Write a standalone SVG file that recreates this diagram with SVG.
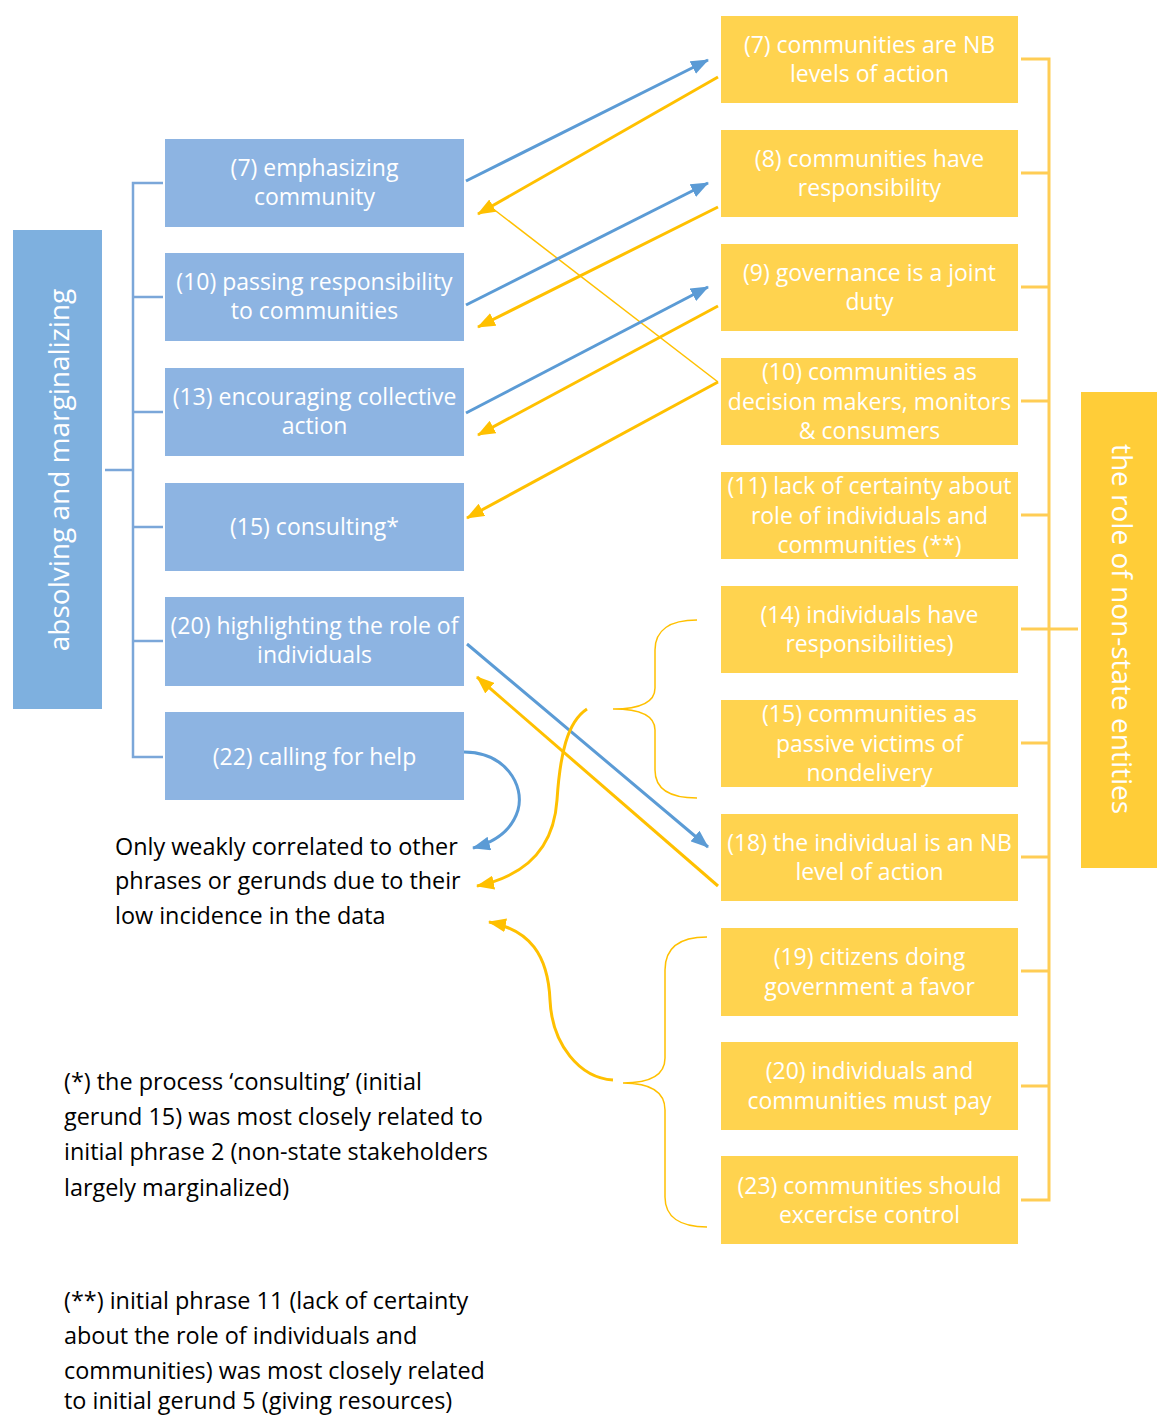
<svg xmlns="http://www.w3.org/2000/svg" width="1157" height="1416" viewBox="0 0 1157 1416">
<style>
.bb{fill:#8DB4E2}
.yb{fill:#FFD34F}
.t{font-family:"Open Sans","Liberation Sans",Arial,sans-serif;font-size:23px;fill:#fff;text-anchor:middle}
.k{font-family:"Open Sans","Liberation Sans",Arial,sans-serif;font-size:23.4px;fill:#000}
.big{font-family:"Open Sans","Liberation Sans",Arial,sans-serif;font-size:28px;fill:#fff;text-anchor:middle}
.ba{fill:none;stroke:#5B9BD5;stroke-width:3}
.ya{fill:none;stroke:#FFC000;stroke-width:3}
.yt{fill:none;stroke:#FFC000;stroke-width:1.5}
.lb{fill:none;stroke:#7BA7D9;stroke-width:2.5}
.rb{fill:none;stroke:#FFCD55;stroke-width:3}
</style>
<defs>
<marker id="ab" markerUnits="userSpaceOnUse" markerWidth="18" markerHeight="14" refX="17" refY="7" orient="auto"><path d="M0,0 L18,7 L0,14 z" fill="#5B9BD5"/></marker>
<marker id="ay" markerUnits="userSpaceOnUse" markerWidth="18" markerHeight="14" refX="17" refY="7" orient="auto"><path d="M0,0 L18,7 L0,14 z" fill="#FFC000"/></marker>
</defs>
<rect width="1157" height="1416" fill="#fff"/>

<g id="left-title">
<rect x="13" y="230" width="89" height="479" fill="#7EB0DF"/>
<text class="big" transform="translate(69,470) rotate(-90)">absolving and marginalizing</text>
</g>
<g id="right-title">
<rect x="1081" y="392" width="76" height="476" fill="#FFCD38"/>
<text class="big" transform="translate(1112,629) rotate(90)">the role of non-state entities</text>
</g>

<g id="brackets">
<path class="lb" d="M163,183 H133 V757 H163 M133,297 H163 M133,412 H163 M133,527 H163 M133,641 H163 M105,470 H133"/>
<path class="rb" d="M1021,59 H1049 V1200 H1021 M1021,173 H1049 M1021,287 H1049 M1021,401 H1049 M1021,515 H1049 M1021,629 H1049 M1021,743 H1049 M1021,857 H1049 M1021,971 H1049 M1021,1086 H1049 M1049,629 H1078"/>
</g>

<g id="L7"><rect class="bb" x="165" y="139" width="299" height="88"/><text class="t" x="314.5" y="176">(7) emphasizing</text><text class="t" x="314.5" y="205">community</text></g>
<g id="L10"><rect class="bb" x="165" y="253" width="299" height="88"/><text class="t" x="314.5" y="290">(10) passing responsibility</text><text class="t" x="314.5" y="319">to communities</text></g>
<g id="L13"><rect class="bb" x="165" y="368" width="299" height="88"/><text class="t" x="314.5" y="405">(13) encouraging collective</text><text class="t" x="314.5" y="434">action</text></g>
<g id="L15"><rect class="bb" x="165" y="483" width="299" height="88"/><text class="t" x="314.5" y="535">(15) consulting*</text></g>
<g id="L20"><rect class="bb" x="165" y="597" width="299" height="89"/><text class="t" x="314.5" y="634">(20) highlighting the role of</text><text class="t" x="314.5" y="663">individuals</text></g>
<g id="L22"><rect class="bb" x="165" y="712" width="299" height="88"/><text class="t" x="314.5" y="765">(22) calling for help</text></g>

<g id="R7"><rect class="yb" x="721" y="16" width="297" height="87"/><text class="t" x="869.5" y="53">(7) communities are NB</text><text class="t" x="869.5" y="82">levels of action</text></g>
<g id="R8"><rect class="yb" x="721" y="130" width="297" height="87"/><text class="t" x="869.5" y="167">(8) communities have</text><text class="t" x="869.5" y="196">responsibility</text></g>
<g id="R9"><rect class="yb" x="721" y="244" width="297" height="87"/><text class="t" x="869.5" y="281">(9) governance is a joint</text><text class="t" x="869.5" y="310">duty</text></g>
<g id="R10"><rect class="yb" x="721" y="358" width="297" height="87"/><text class="t" x="869.5" y="380">(10) communities as</text><text class="t" x="869.5" y="410">decision makers, monitors</text><text class="t" x="869.5" y="439">&amp; consumers</text></g>
<g id="R11"><rect class="yb" x="721" y="472" width="297" height="87"/><text class="t" x="869.5" y="494">(11) lack of certainty about</text><text class="t" x="869.5" y="524">role of individuals and</text><text class="t" x="869.5" y="553">communities (**)</text></g>
<g id="R14"><rect class="yb" x="721" y="586" width="297" height="87"/><text class="t" x="869.5" y="623">(14) individuals have</text><text class="t" x="869.5" y="652">responsibilities)</text></g>
<g id="R15"><rect class="yb" x="721" y="700" width="297" height="87"/><text class="t" x="869.5" y="722">(15) communities as</text><text class="t" x="869.5" y="752">passive victims of</text><text class="t" x="869.5" y="781">nondelivery</text></g>
<g id="R18"><rect class="yb" x="721" y="814" width="297" height="87"/><text class="t" x="869.5" y="851">(18) the individual is an NB</text><text class="t" x="869.5" y="880">level of action</text></g>
<g id="R19"><rect class="yb" x="721" y="928" width="297" height="88"/><text class="t" x="869.5" y="965">(19) citizens doing</text><text class="t" x="869.5" y="995">government a favor</text></g>
<g id="R20"><rect class="yb" x="721" y="1042" width="297" height="88"/><text class="t" x="869.5" y="1079">(20) individuals and</text><text class="t" x="869.5" y="1109">communities must pay</text></g>
<g id="R23"><rect class="yb" x="721" y="1156" width="297" height="88"/><text class="t" x="869.5" y="1194">(23) communities should</text><text class="t" x="869.5" y="1223">excercise control</text></g>

<g id="connectors">
<line class="ba" x1="466" y1="181" x2="708" y2="60" marker-end="url(#ab)"/>
<line class="ya" x1="718" y1="77" x2="478" y2="214" marker-end="url(#ay)"/>
<line class="yt" x1="492" y1="208" x2="718" y2="382"/>
<line class="ba" x1="466" y1="305" x2="708" y2="183" marker-end="url(#ab)"/>
<line class="ya" x1="718" y1="207" x2="478" y2="327" marker-end="url(#ay)"/>
<line class="ba" x1="466" y1="413" x2="708" y2="287" marker-end="url(#ab)"/>
<line class="ya" x1="718" y1="306" x2="478" y2="435" marker-end="url(#ay)"/>
<line class="ya" x1="718" y1="382" x2="467" y2="518" marker-end="url(#ay)"/>
<line class="ba" x1="467" y1="644" x2="708" y2="847" marker-end="url(#ab)"/>
<line class="ya" x1="718" y1="886" x2="477" y2="677" marker-end="url(#ay)"/>
<path class="ba" d="M464,752 C505,752 525,785 518,810 C512,830 495,842 473,848" marker-end="url(#ab)"/>
<path class="ya" d="M587,709 C567,722 560,755 557,800 C554,845 530,875 477,886" marker-end="url(#ay)"/>
<path class="ya" d="M613,1080 C580,1078 552,1045 550,1000 C548,955 530,930 489,922" marker-end="url(#ay)"/>
<path class="yt" d="M697,620 C670,620 655,630 655,650 L655,688 C655,703 640,709 613,709 C640,709 655,715 655,730 L655,770 C655,790 670,798 697,798"/>
<path class="yt" d="M707,937 C680,937 665,947 665,970 L665,1058 C665,1075 650,1083 623,1083 C650,1083 665,1091 665,1110 L665,1197 C665,1217 680,1227 707,1227"/>
</g>

<g id="notes">
<text class="k" x="115" y="855">Only weakly correlated to other</text>
<text class="k" x="115" y="889">phrases or gerunds due to their</text>
<text class="k" x="115" y="924">low incidence in the data</text>
<text class="k" x="64" y="1090">(*) the process ‘consulting’ (initial</text>
<text class="k" x="64" y="1125">gerund 15) was most closely related to</text>
<text class="k" x="64" y="1160">initial phrase 2 (non-state stakeholders</text>
<text class="k" x="64" y="1196">largely marginalized)</text>
<text class="k" x="64" y="1309">(**) initial phrase 11 (lack of certainty</text>
<text class="k" x="64" y="1344">about the role of individuals and</text>
<text class="k" x="64" y="1379">communities) was most closely related</text>
<text class="k" x="64" y="1409">to initial gerund 5 (giving resources)</text>
</g>
</svg>
